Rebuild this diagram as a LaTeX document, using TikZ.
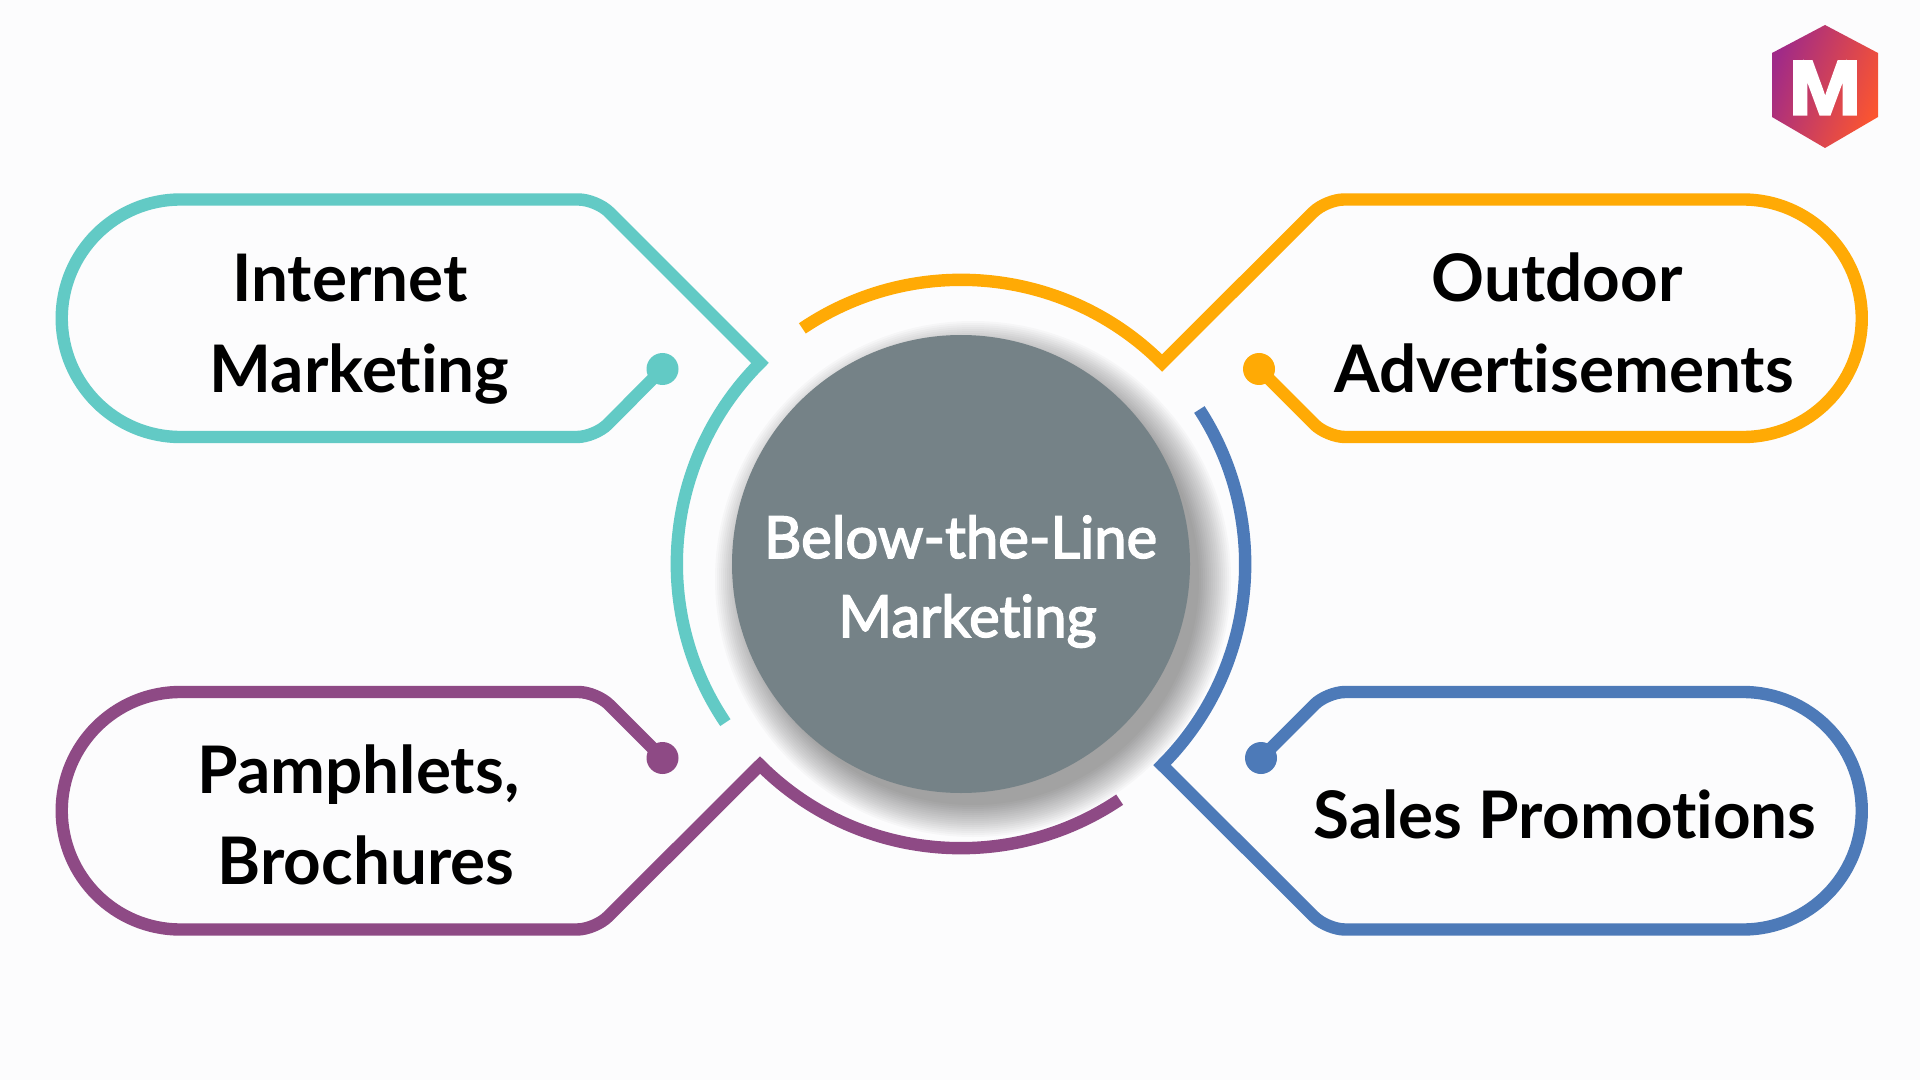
\documentclass[tikz,border=0pt]{standalone}
\usepackage{fontspec}
\setmainfont[Ligatures=CommonOff]{Lato}
\newfontfamily\hubfont[FakeBold=2.6,Ligatures=CommonOff]{Lato}
\newfontfamily\logofont[FakeBold=4,FakeStretch=1.14]{Liberation Sans Bold}
\definecolor{bgc}{HTML}{FCFCFD}
\definecolor{teal1}{HTML}{62CAC5}
\definecolor{orange1}{HTML}{FFAA05}
\definecolor{purple1}{HTML}{8E4A85}
\definecolor{blue1}{HTML}{4D7AB8}
\definecolor{gray1}{HTML}{758287}
\definecolor{logoa}{HTML}{A02A88}
\definecolor{logob}{HTML}{E4303A}
\definecolor{logoc}{HTML}{FB5530}
\tikzset{
  outline/.style={line width=6.2pt,line join=miter,miter limit=10},
  dotnode/.style={circle,inner sep=0pt,minimum size=16pt,fill=#1},
  label1/.style={anchor=base,inner sep=0pt,font=\fontsize{32.8}{33}\selectfont\bfseries,text=black},
  label2/.style={anchor=base,inner sep=0pt,font=\hubfont\fontsize{29}{29}\selectfont,text=white},
}
\begin{document}
\begin{tikzpicture}[x=0.5pt,y=-0.5pt]
\useasboundingbox (0,0) rectangle (1920,1080);
\fill[bgc] (0,0) rectangle (1920,1080);
% central circle with soft shadow
\foreach \r in {258,256,...,226}{
  \fill[black,opacity=0.024] (973,579) circle[radius=\r];
}
\node[circle,fill=gray1,inner sep=0pt,minimum size=229pt] (hub) at (961,564) {};
% teal
\node[dotnode=teal1] (d1) at (662.5,369) {};
\draw[teal1,outline] (d1.center) [rounded corners=9pt] -- (595,437) -- (400,437) [sharp corners] -- (180.5,437)
  arc[start angle=90,end angle=270,radius=118.75] -- (400,199.5) [rounded corners=9pt] -- (596.5,199.5) [sharp corners] -- (760,363)
  arc[start angle=225,end angle=146,radius=284];
% orange
\node[dotnode=orange1] (d2) at (1259,369) {};
\draw[orange1,outline] (d2.center) [rounded corners=9pt] -- (1327,437) -- (1500,437) [sharp corners] -- (1743,437)
  arc[start angle=90,end angle=-90,radius=118.75] -- (1500,199.5) [rounded corners=9pt] -- (1326,199.5) [sharp corners] -- (1162,363)
  arc[start angle=315,end angle=236,radius=284];
% purple
\node[dotnode=purple1] (d3) at (662.5,758) {};
\draw[purple1,outline] (d3.center) [rounded corners=9pt] -- (596.5,692) -- (400,692) [sharp corners] -- (180.5,692)
  arc[start angle=270,end angle=90,radius=118.75] -- (400,929.5) [rounded corners=9pt] -- (595,929.5) [sharp corners] -- (760,765)
  arc[start angle=135,end angle=56,radius=284];
% blue
\node[dotnode=blue1] (d4) at (1261,758) {};
\draw[blue1,outline] (d4.center) [rounded corners=9pt] -- (1327,692) -- (1500,692) [sharp corners] -- (1743,692)
  arc[start angle=-90,end angle=90,radius=118.75] -- (1500,929.5) [rounded corners=9pt] -- (1327,929.5) [sharp corners] -- (1162,765)
  arc[start angle=45,end angle=-33,radius=284];
% labels
\node[label1] (t1) at (350,302) {Internet};
\node[label1] (t2) at (359.5,392.5) {Marketing};
\node[label1] (t3) at (1557,302) {Outdoor};
\node[label1] (t4) at (1564,392.5) {Advertisements};
\node[label1] (t5) at (358.5,793.5) {Pamphlets,};
\node[label1] (t6) at (366,884) {Brochures};
\node[label1] (t7) at (1565,838.5) {Sales Promotions};
\node[label2] (h1) at (960.5,558) {Below-the-Line};
\node[label2] (h2) at (967.5,637) {Marketing};
% logo
\shade[left color=logoa,middle color=logob,right color=logoc,shading angle=70]
  (1825,25) -- (1878,53) -- (1878,117) -- (1825,148) -- (1772,117) -- (1772,53) -- cycle;
\node[anchor=base,inner sep=0pt,font=\logofont\fontsize{38}{38}\selectfont,text=white] (m) at (1825,114) {M};
\end{tikzpicture}
\end{document}
